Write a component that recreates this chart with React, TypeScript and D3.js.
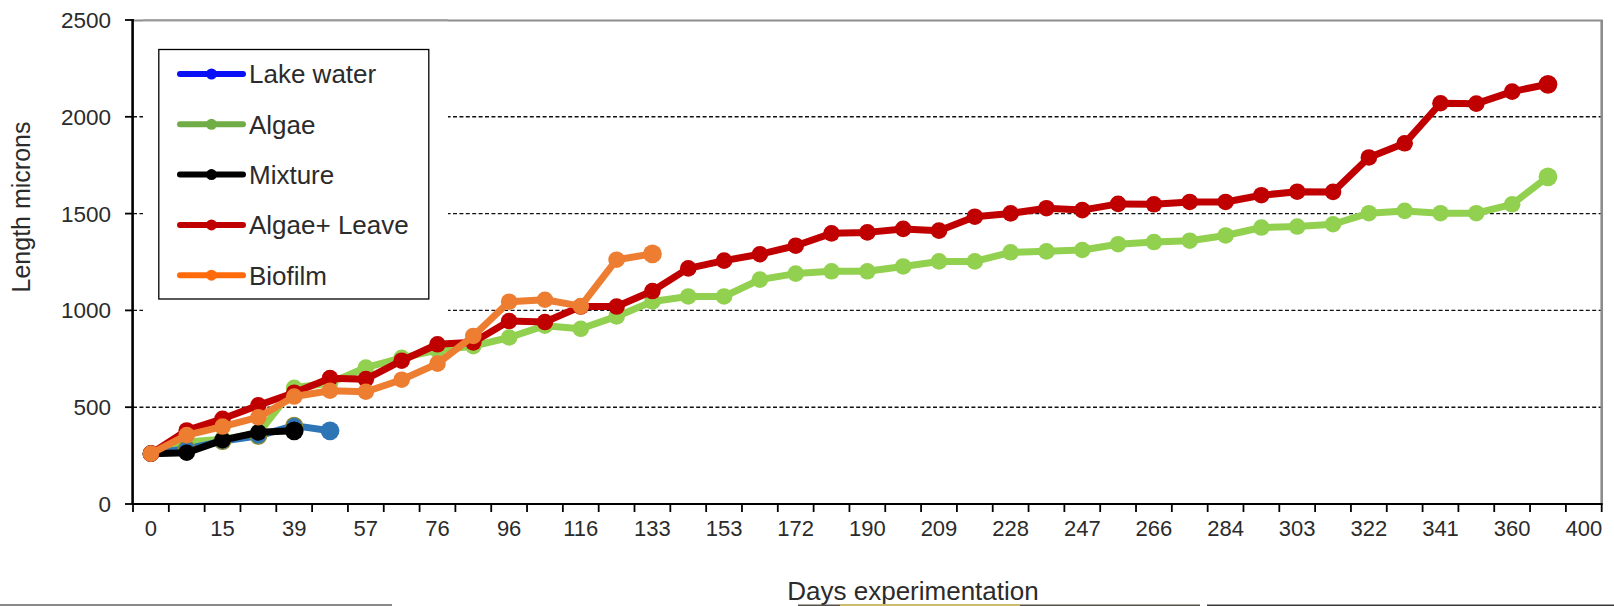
import React from "react";
import * as d3 from "d3";

const tickLabels = ["0","15","39","57","76","96","116","133","153","172","190","209","228","247","266","284","303","322","341","360","400"];
const yTicks = [0, 500, 1000, 1500, 2000, 2500];
const gridValues = [500, 1000, 1500, 2000];

const lakeWater = [260, 285, 325, 352, 405, 378];
const algae = [260, 320, 335, 365, 600, 625, 705, 755, 795, 815, 860, 921, 905, 969, 1046, 1072, 1072, 1159, 1190, 1202, 1202, 1227, 1253, 1253, 1300, 1305, 1312, 1342, 1353, 1360, 1387, 1428, 1433, 1445, 1502, 1514, 1502, 1502, 1548, 1690];
const mixture = [260, 265, 330, 370, 378];
const algaeLeave = [260, 380, 440, 510, 575, 650, 645, 740, 825, 835, 945, 940, 1020, 1020, 1100, 1217, 1257, 1290, 1334, 1398, 1403, 1421, 1412, 1484, 1501, 1528, 1518, 1550, 1548, 1560, 1560, 1595, 1613, 1612, 1790, 1863, 2070, 2068, 2130, 2168];
const biofilm = [260, 356, 400, 448, 555, 585, 580, 642, 725, 868, 1045, 1055, 1022, 1262, 1292];

const seriesNames = ["Lake water", "Algae", "Mixture", "Algae+ Leave", "Biofilm"];
const legendColors = ["#0a10f5", "#70ad47", "#000000", "#c00000", "#ff6a0a"];

const W = 1614, H = 606;
const X0 = 133, X1 = 1601.7, Y0 = 504, Y1 = 20;
const FONT = "'Liberation Sans', Arial, sans-serif";
const TXT = "#2b2b2b";

export default function App() {
  const nCat = tickLabels.length * 2 - 1;
  const x = d3.scaleBand<number>().domain(d3.range(nCat)).range([X0, X1]).padding(0);
  const bw = x.bandwidth();
  const cx = (i: number) => (x(i) as number) + bw / 2;
  const y = d3.scaleLinear().domain([0, 2500]).range([Y0, Y1]);
  const line = d3.line<number>().x((_, i) => cx(i)).y((d) => y(d));

  const drawn = [
    { data: algae, color: "#92d050", stroke: null as string | null },
    { data: lakeWater, color: "#2e75b6", stroke: "#8c8a2c" },
    { data: mixture, color: "#000000", stroke: null },
    { data: algaeLeave, color: "#c00000", stroke: null },
    { data: biofilm, color: "#ed7d31", stroke: null },
  ];

  const boundaries = d3.range(nCat + 1).map((i) => X0 + i * bw);
  const legendRowY = (i: number) => 74 + i * 50.3;

  return (
    <svg width={W} height={H} style={{ position: "absolute", left: 0, top: 0, background: "#fff" }}>
      <rect x={0} y={0} width={W} height={H} fill="#ffffff" />
      {gridValues.map((v) => (
        <line key={v} x1={X0} x2={X1} y1={y(v)} y2={y(v)} stroke="#111" strokeWidth={1.4} strokeDasharray="4,2.4" />
      ))}
      <line x1={X0} x2={X1 + 1} y1={20.5} y2={20.5} stroke="#8c8c8c" strokeWidth={2.2} />
      <line x1={X1} x2={X1} y1={20} y2={Y0} stroke="#8c8c8c" strokeWidth={2.6} />
      <rect x={143} y={21.8} width={305} height={294} fill="#fff" />
      <line x1={143} x2={448} y1={19.8} y2={19.8} stroke="#a8a8a8" strokeWidth={1.6} />
      {drawn.map((s, si) => (
        <g key={si}>
          <path d={line(s.data) as string} fill="none" stroke={s.color} strokeWidth={7} strokeLinejoin="round" strokeLinecap="round" />
          {s.data.map((v, i) => (
            <circle
              key={i}
              cx={cx(i)}
              cy={y(v)}
              r={i === s.data.length - 1 ? 9.4 : 8.3}
              fill={s.color}
              stroke={s.stroke && i > 0 && i < s.data.length - 1 ? s.stroke : "none"}
              strokeWidth={1.3}
            />
          ))}
        </g>
      ))}
      <line x1={132.6} x2={132.6} y1={19} y2={Y0 + 1} stroke="#000" strokeWidth={2.6} />
      {yTicks.map((v) => (
        <g key={v}>
          <line x1={125} x2={133} y1={y(v)} y2={y(v)} stroke="#000" strokeWidth={1.8} />
          <text x={111} y={y(v) + 8} textAnchor="end" fontFamily={FONT} fontSize={22.5} fill={TXT}>{v}</text>
        </g>
      ))}
      <line x1={X0 - 1} x2={X1 + 1} y1={Y0} y2={Y0} stroke="#000" strokeWidth={2.2} />
      {boundaries.map((bx, i) => (
        <line key={i} x1={bx} x2={bx} y1={Y0} y2={Y0 + 8} stroke="#000" strokeWidth={1.8} />
      ))}
      {tickLabels.map((t, k) => (
        <text key={t} x={cx(k * 2)} y={536} textAnchor="middle" fontFamily={FONT} fontSize={22} fill={TXT}>{t}</text>
      ))}
      <text transform="translate(30,207) rotate(-90)" textAnchor="middle" fontFamily={FONT} fontSize={25} fill={TXT}>Length microns</text>
      <text x={913} y={600} textAnchor="middle" fontFamily={FONT} fontSize={26} fill={TXT}>Days experimentation</text>
      <rect x={158.8} y={49.5} width={270} height={249.5} fill="#fff" stroke="#000" strokeWidth={1.3} />
      {seriesNames.map((nm, i) => (
        <g key={nm}>
          <line x1={180} x2={243} y1={legendRowY(i)} y2={legendRowY(i)} stroke={legendColors[i]} strokeWidth={6} strokeLinecap="round" />
          <circle cx={211.5} cy={legendRowY(i)} r={5.5} fill={legendColors[i]} />
          <text x={249} y={legendRowY(i) + 9.3} fontFamily={FONT} fontSize={26} fill={TXT}>{nm}</text>
        </g>
      ))}
      <rect x={0} y={604} width={392} height={2} fill="#8a8a8a" />
      <rect x={798} y={604.5} width={402} height={1.5} fill="#55524a" />
      <rect x={840} y={604} width={180} height={2} fill="#cdbb6e" />
      <rect x={1207} y={604.5} width={407} height={1.5} fill="#3a3a3a" />
    </svg>
  );
}
